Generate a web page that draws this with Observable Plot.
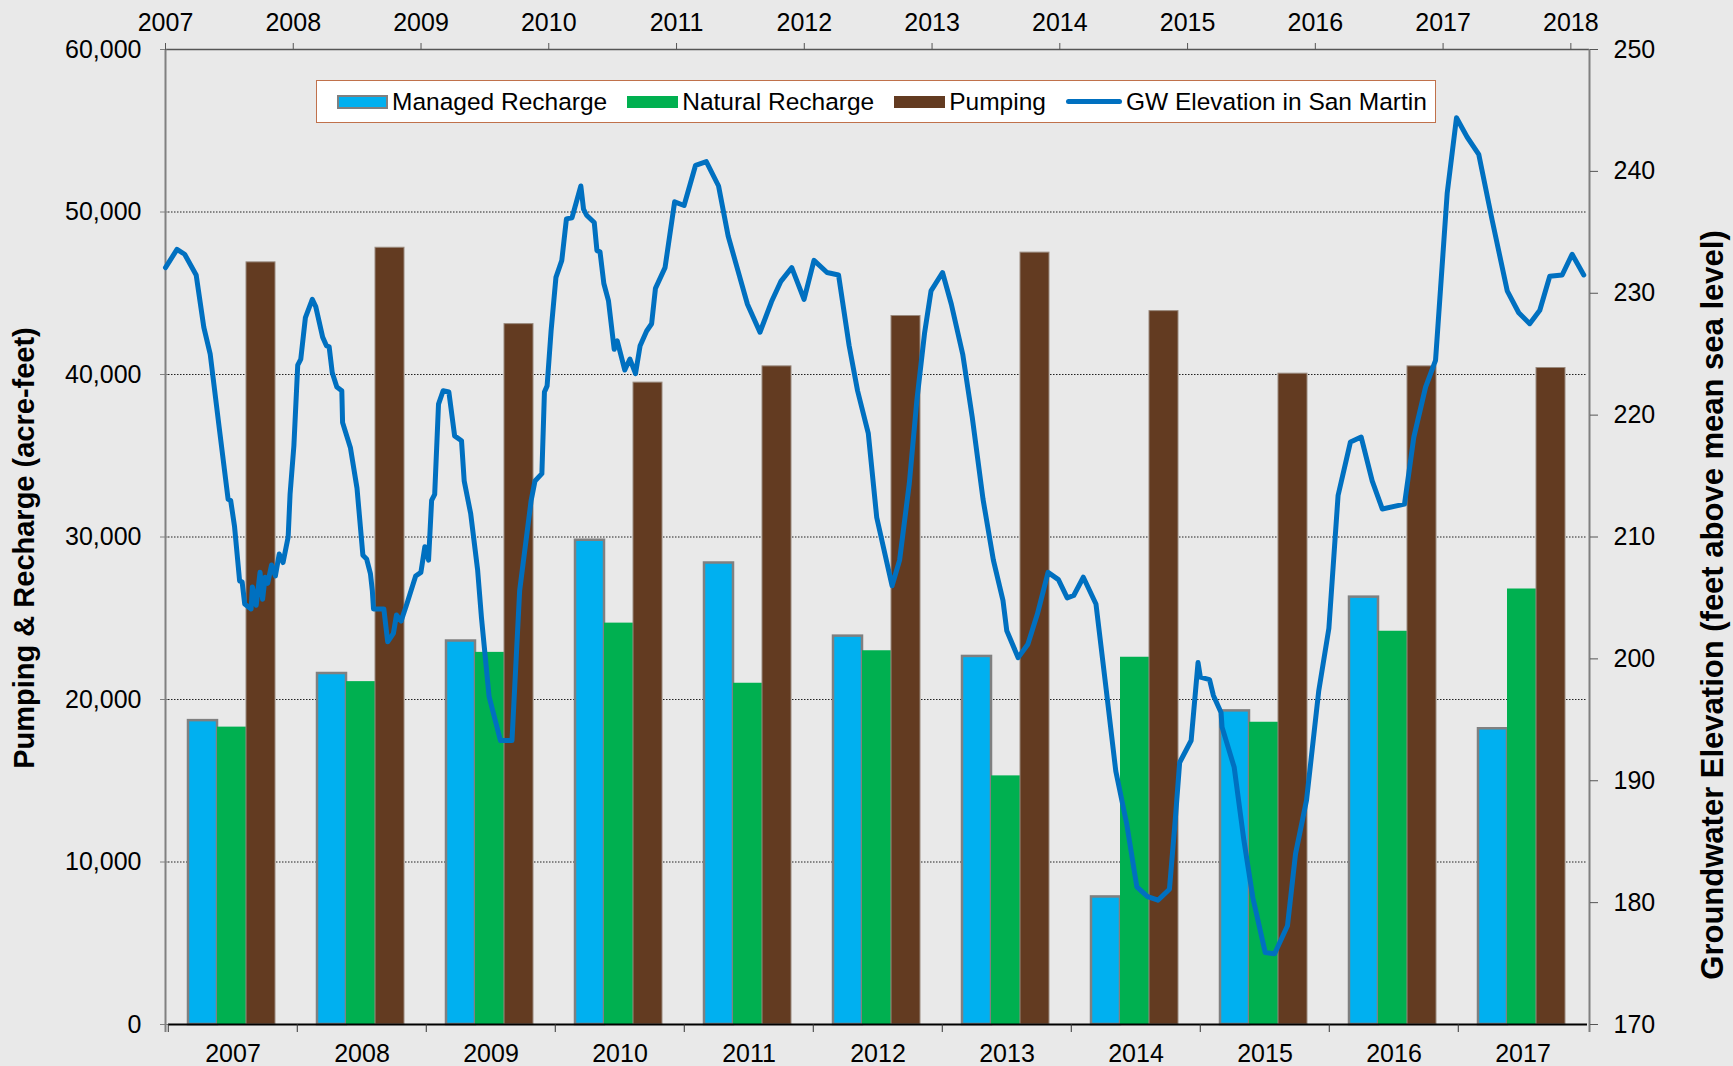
<!DOCTYPE html>
<html>
<head>
<meta charset="utf-8">
<script src="https://cdn.jsdelivr.net/npm/d3@7"></script>
<script src="https://cdn.jsdelivr.net/npm/@observablehq/plot@0.6"></script>
<style>
  html, body { margin: 0; padding: 0; background: #e9e9e9; }
  #wrap { position: relative; width: 1733px; height: 1066px; overflow: hidden; font-family: "Liberation Sans", Arial, sans-serif; }
  #wrap svg { position: absolute; left: 0; top: 0; }
  .ylab { position: absolute; font-weight: bold; font-size: 29px; white-space: nowrap; transform: translate(-50%, -50%) rotate(-90deg); }
  #legend { position: absolute; left: 316px; top: 80px; width: 1118px; height: 41px; background: #fff; border: 1.5px solid #c0714b; display: flex; align-items: center; font-size: 24.5px; box-sizing: content-box; }
  .item { display: flex; align-items: center; margin-left: 20px; }
  .sw { width: 51px; height: 12px; margin-right: 4px; }
</style>
</head>
<body>
<div id="wrap"></div>
<script>
// ---- data ----
const years = ["2007","2008","2009","2010","2011","2012","2013","2014","2015","2016","2017"];
const seriesNames = ["Managed Recharge", "Natural Recharge", "Pumping"];
const managedRecharge = [18700, 21600, 23600, 29800, 28400, 23900, 22650, 7850, 19300, 26300, 18200];
const naturalRecharge = [18300, 21100, 22900, 24700, 21000, 23000, 15300, 22600, 18600, 24200, 26800];
const pumping = [46900, 47800, 43100, 39500, 40500, 43600, 47500, 43900, 40050, 40500, 40400];
const leftTicks = [0, 10000, 20000, 30000, 40000, 50000, 60000];
const gridTicks = [10000, 20000, 30000, 40000, 50000];
const rightTicks = [170, 180, 190, 200, 210, 220, 230, 240, 250];
const topTicks = [2007, 2008, 2009, 2010, 2011, 2012, 2013, 2014, 2015, 2016, 2017, 2018];

// GW elevation in San Martin: decimal year, feet above mean sea level
const gwTime = [
 2007.00,2007.09,2007.15,2007.24,2007.30,2007.35,2007.42,2007.49,2007.51,2007.54,2007.58,2007.60,2007.62,2007.67,2007.68,2007.71,2007.74,2007.76,2007.78,2007.80,2007.83,2007.86,2007.89,2007.92,2007.96,2007.975,
 2008.005,2008.035,2008.059,2008.095,2008.149,2008.176,2008.230,2008.260,2008.281,2008.305,2008.341,2008.380,2008.386,2008.448,2008.499,2008.545,2008.574,2008.604,2008.619,2008.628,2008.709,2008.739,2008.784,2008.808,2008.844,2008.889,2008.958,2008.999,
 2009.030,2009.059,2009.083,2009.107,2009.137,2009.173,2009.218,2009.263,2009.317,2009.338,2009.389,2009.443,2009.473,2009.533,2009.622,2009.712,2009.772,2009.862,2009.892,2009.946,2009.966,2009.987,
 2010.018,2010.056,2010.102,2010.138,2010.182,2010.251,2010.272,2010.296,2010.356,2010.377,2010.401,2010.431,2010.467,2010.512,2010.536,2010.595,2010.635,2010.679,2010.715,2010.766,2010.805,2010.835,2010.910,2010.985,
 2011.059,2011.149,2011.233,2011.329,2011.404,2011.474,2011.555,2011.653,2011.743,2011.818,2011.902,2011.998,
 2012.076,2012.178,2012.268,2012.351,2012.417,2012.501,2012.567,2012.687,2012.746,2012.822,2012.881,2012.941,2012.992,
 2013.082,2013.151,2013.240,2013.315,2013.399,2013.480,2013.555,2013.585,2013.674,2013.750,2013.825,2013.908,2013.989,
 2014.058,2014.109,2014.184,2014.283,2014.364,2014.438,2014.523,2014.603,2014.687,2014.768,2014.858,2014.903,2014.938,
 2015.028,2015.082,2015.100,2015.172,2015.202,2015.262,2015.270,2015.365,2015.441,2015.511,2015.608,2015.681,2015.782,2015.845,2015.931,
 2016.027,2016.106,2016.178,2016.275,2016.359,2016.445,2016.524,2016.698,2016.771,2016.863,2016.941,
 2017.032,2017.105,2017.189,2017.279,2017.384,2017.502,2017.592,2017.678,2017.757,2017.835,2017.932,
 2018.010,2018.101
];
const gwElevation = [
 232.1,233.6,233.2,231.5,227.2,225.0,219.0,213.1,213.0,210.9,206.4,206.3,204.5,204.1,205.9,204.4,207.1,204.9,206.7,206.2,207.7,206.8,208.6,207.9,210.0,213.5,
 217.5,224.1,224.6,228.0,229.5,228.9,226.4,225.7,225.6,223.5,222.3,222.0,219.4,217.3,214.0,208.5,208.2,207.0,205.6,204.1,204.1,201.4,202.1,203.6,203.1,204.5,206.8,207.1,
 209.2,208.1,213.0,213.5,220.9,222.0,221.9,218.3,217.9,214.6,211.9,207.3,203.4,196.9,193.3,193.3,205.6,213.0,214.6,215.2,221.9,222.4,
 226.9,231.3,232.7,236.1,236.2,238.8,236.9,236.4,235.8,233.5,233.4,230.8,229.4,225.4,226.1,223.7,224.6,223.4,225.7,226.9,227.5,230.4,232.1,237.5,
 237.2,240.5,240.8,238.8,234.7,232.1,229.1,226.8,229.3,231.0,232.1,229.5,
 232.7,231.7,231.5,225.7,222.0,218.5,211.6,206.0,208.1,214.4,221.2,226.7,230.2,
 231.7,229.1,225.0,219.8,213.1,208.1,204.8,202.3,200.1,201.2,203.7,207.1,206.5,
 205.0,205.2,206.7,204.5,197.4,190.8,186.5,181.3,180.5,180.2,181.1,186.7,191.5,
 193.3,199.7,198.5,198.3,197.0,195.6,194.4,191.1,185.1,180.4,175.9,175.8,178.1,184.0,188.4,
 197.4,202.5,213.4,217.8,218.2,214.6,212.3,212.7,218.2,222.3,224.5,
 238.2,244.4,242.8,241.4,236.0,230.2,228.4,227.5,228.6,231.4,231.5,
 233.2,231.5
];
const timeDomain = [2007, 2018.146];

// ---- styles ----
const colors = {"Managed Recharge": "#00b0f0", "Natural Recharge": "#00b050", "Pumping": "#633b21"};
const lineColor = "#0070c0";
const font = '"Liberation Sans", Arial, sans-serif';

const W = 1733, H = 1066;
const margins = {marginLeft: 165, marginRight: 144, marginTop: 49, marginBottom: 42};

const rows = years.flatMap((y, i) => [
  {year: y, series: seriesNames[0], value: managedRecharge[i]},
  {year: y, series: seriesNames[1], value: naturalRecharge[i]},
  {year: y, series: seriesNames[2], value: pumping[i]}
]);
const gw = gwTime.map((t, i) => ({t, elev: gwElevation[i]}));

const wrap = document.getElementById("wrap");
const commaFmt = d3.format(",");

// Bars plot (left axis, bottom category axis)
const bars = Plot.plot({
  width: W, height: H, ...margins,
  style: {background: "transparent", fontFamily: font, fontSize: "25px", color: "#000", overflow: "visible"},
  fx: {domain: years, padding: 0, label: null},
  x: {domain: seriesNames, paddingInner: 0, paddingOuter: 0.7, align: 0.48, axis: null},
  y: {domain: [0, 60000], axis: null},
  marks: [
    Plot.ruleY(gridTicks, {stroke: "#222", strokeWidth: 1, strokeDasharray: "1.5,1.5"}),
    Plot.barY(rows, {filter: d => d.series === seriesNames[0], fx: "year", x: "series", y: "value", fill: colors[seriesNames[0]], stroke: "#808080", strokeWidth: 2.5}),
    Plot.barY(rows, {filter: d => d.series === seriesNames[1], fx: "year", x: "series", y: "value", fill: colors[seriesNames[1]]}),
    Plot.barY(rows, {filter: d => d.series === seriesNames[2], fx: "year", x: "series", y: "value", fill: colors[seriesNames[2]], stroke: "#9a8a7e", strokeWidth: 1}),
    Plot.ruleY([0], {stroke: "#000", strokeWidth: 2}),
    Plot.axisY({anchor: "left", ticks: leftTicks, tickFormat: commaFmt, tickSize: 8, tickPadding: 19, stroke: "#808080", fontSize: 25, label: null}),
    Plot.axisFx({anchor: "bottom", tickSize: 0, tickPadding: 20, fontSize: 25, label: null}),
    Plot.axisFx({anchor: "bottom", tickSize: 8, tickFormat: () => "", dx: -64.73, stroke: "#333", label: null})
  ]
});
wrap.appendChild(bars);

// Line plot (top time axis, right elevation axis)
const line = Plot.plot({
  width: W, height: H, ...margins,
  style: {background: "transparent", fontFamily: font, fontSize: "25px", color: "#000", overflow: "visible"},
  x: {domain: timeDomain, axis: null},
  y: {domain: [170, 250], axis: null},
  marks: [
    Plot.ruleY([250], {stroke: "#555", strokeWidth: 1.5}),
    Plot.ruleX([timeDomain[0]], {stroke: "#808080", strokeWidth: 2, insetBottom: -8}),
    Plot.ruleX([timeDomain[1]], {stroke: "#808080", strokeWidth: 2, insetBottom: -8}),
    Plot.line(gw, {x: "t", y: "elev", stroke: lineColor, strokeWidth: 5, strokeLinejoin: "round", strokeLinecap: "round"}),
    Plot.axisX({anchor: "top", ticks: topTicks, tickFormat: "d", tickSize: 7, tickPadding: 12, stroke: "#555", fontSize: 25, label: null}),
    Plot.axisY({anchor: "right", ticks: rightTicks, tickSize: 8, tickPadding: 16, stroke: "#555", fontSize: 25, label: null})
  ]
});
wrap.appendChild(line);

// Axis titles
const l1 = document.createElement("div");
l1.className = "ylab"; l1.style.left = "24px"; l1.style.top = "548px";
l1.textContent = "Pumping & Recharge (acre-feet)";
wrap.appendChild(l1);
const l2 = document.createElement("div");
l2.className = "ylab"; l2.style.left = "1713px"; l2.style.top = "605px"; l2.style.fontSize = "31px";
l2.textContent = "Groundwater Elevation (feet above mean sea level)";
wrap.appendChild(l2);

// Legend
const legend = document.createElement("div");
legend.id = "legend";
const legendItems = [
  {label: seriesNames[0], style: `background:${colors[seriesNames[0]]};border:2px solid #808080;box-sizing:border-box;height:14px`},
  {label: seriesNames[1], style: `background:${colors[seriesNames[1]]}`},
  {label: seriesNames[2], style: `background:${colors[seriesNames[2]]}`},
  {label: "GW Elevation in San Martin", style: `background:${lineColor};height:5px;border-radius:3px;width:56px`}
];
legendItems.forEach((it, i) => {
  const d = document.createElement("div");
  d.className = "item";
  if (i > 0) d.style.marginLeft = "20px";
  d.innerHTML = `<span class="sw" style="${it.style}"></span><span>${it.label}</span>`;
  legend.appendChild(d);
});
wrap.appendChild(legend);
</script>
</body>
</html>
